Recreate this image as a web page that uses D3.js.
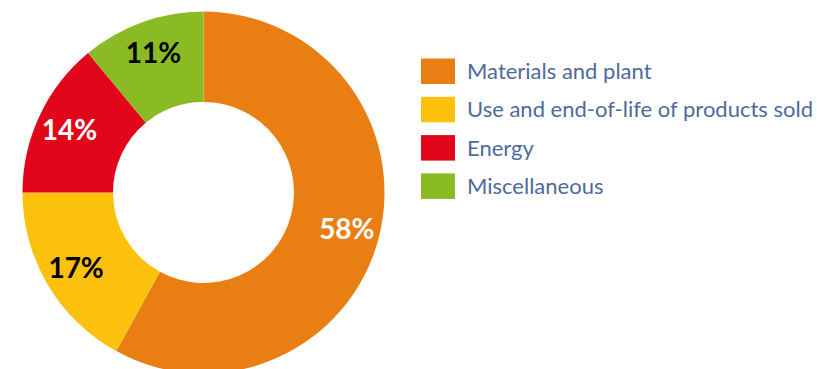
<!DOCTYPE html>
<html>
<head>
<meta charset="utf-8">
<script src="https://cdn.jsdelivr.net/npm/d3@7"></script>
<style>
	body { margin: 0; background: #fff; }
	svg { display: block; }
</style>
</head>
<body>
<svg id="chart" width="817" height="369"></svg>
<script>
// data
const categories = ["Materials and plant", "Use and end-of-life of products sold", "Energy", "Miscellaneous"];
const shares = [58, 17, 14, 11];
const sliceColors = ["#E97E13", "#FCC10D", "#E10619", "#8ABB25"];
const labelColors = ["#ffffff", "#000000", "#ffffff", "#000000"];

const width = 817,
	height = 369,
	cx = 203.5,
	cy = 192.5,
	outerR = 181,
	innerR = 90.5,
	labelR = 148;

let data = categories.map(function(c, i){
	return {name: c, value: shares[i], color: sliceColors[i], textColor: labelColors[i]};
});

let svg = d3.select("#chart");

let pie = d3.pie().sort(null).value(function(d){ return d.value; });
let arc = d3.arc().innerRadius(innerR).outerRadius(outerR);
let labelArc = d3.arc().innerRadius(labelR).outerRadius(labelR);

let donut = svg.append("g").attr("class", "donut")
	.attr("transform", "translate(" + cx + "," + cy + ")");

let arcs = pie(data);

donut.selectAll("path")
	.data(arcs)
	.enter()
	.append("path")
	.attr("d", arc)
	.attr("fill", function(d){ return d.data.color; });

donut.selectAll("text")
	.data(arcs)
	.enter()
	.append("text")
	.attr("transform", function(d){ return "translate(" + labelArc.centroid(d) + ")"; })
	.attr("text-anchor", "middle")
	.attr("dy", "0.36em")
	.attr("font-family", "Lato, 'Open Sans', sans-serif")
	.attr("font-weight", "bold")
	.attr("font-size", "28px")
	.attr("fill", function(d){ return d.data.textColor; })
	.text(function(d){ return d.data.value + "%"; });

// legend
let legendX = 421,
	legendY = 58.5,
	rowStep = 38.3,
	swatchW = 34,
	swatchH = 25.5;

let legend = svg.append("g").attr("class", "legend")
	.attr("transform", "translate(" + legendX + "," + legendY + ")");

let rows = legend.selectAll("g")
	.data(data)
	.enter()
	.append("g")
	.attr("transform", function(d, i){ return "translate(0," + (i * rowStep) + ")"; });

rows.append("rect")
	.attr("width", swatchW)
	.attr("height", swatchH)
	.attr("fill", function(d){ return d.color; });

rows.append("text")
	.attr("x", 46)
	.attr("y", swatchH / 2)
	.attr("dy", "0.35em")
	.attr("font-family", "Lato, 'Open Sans', sans-serif")
	.attr("font-size", "22px")
	.attr("fill", "#4E6A9C")
	.text(function(d){ return d.name; });
</script>
</body>
</html>
